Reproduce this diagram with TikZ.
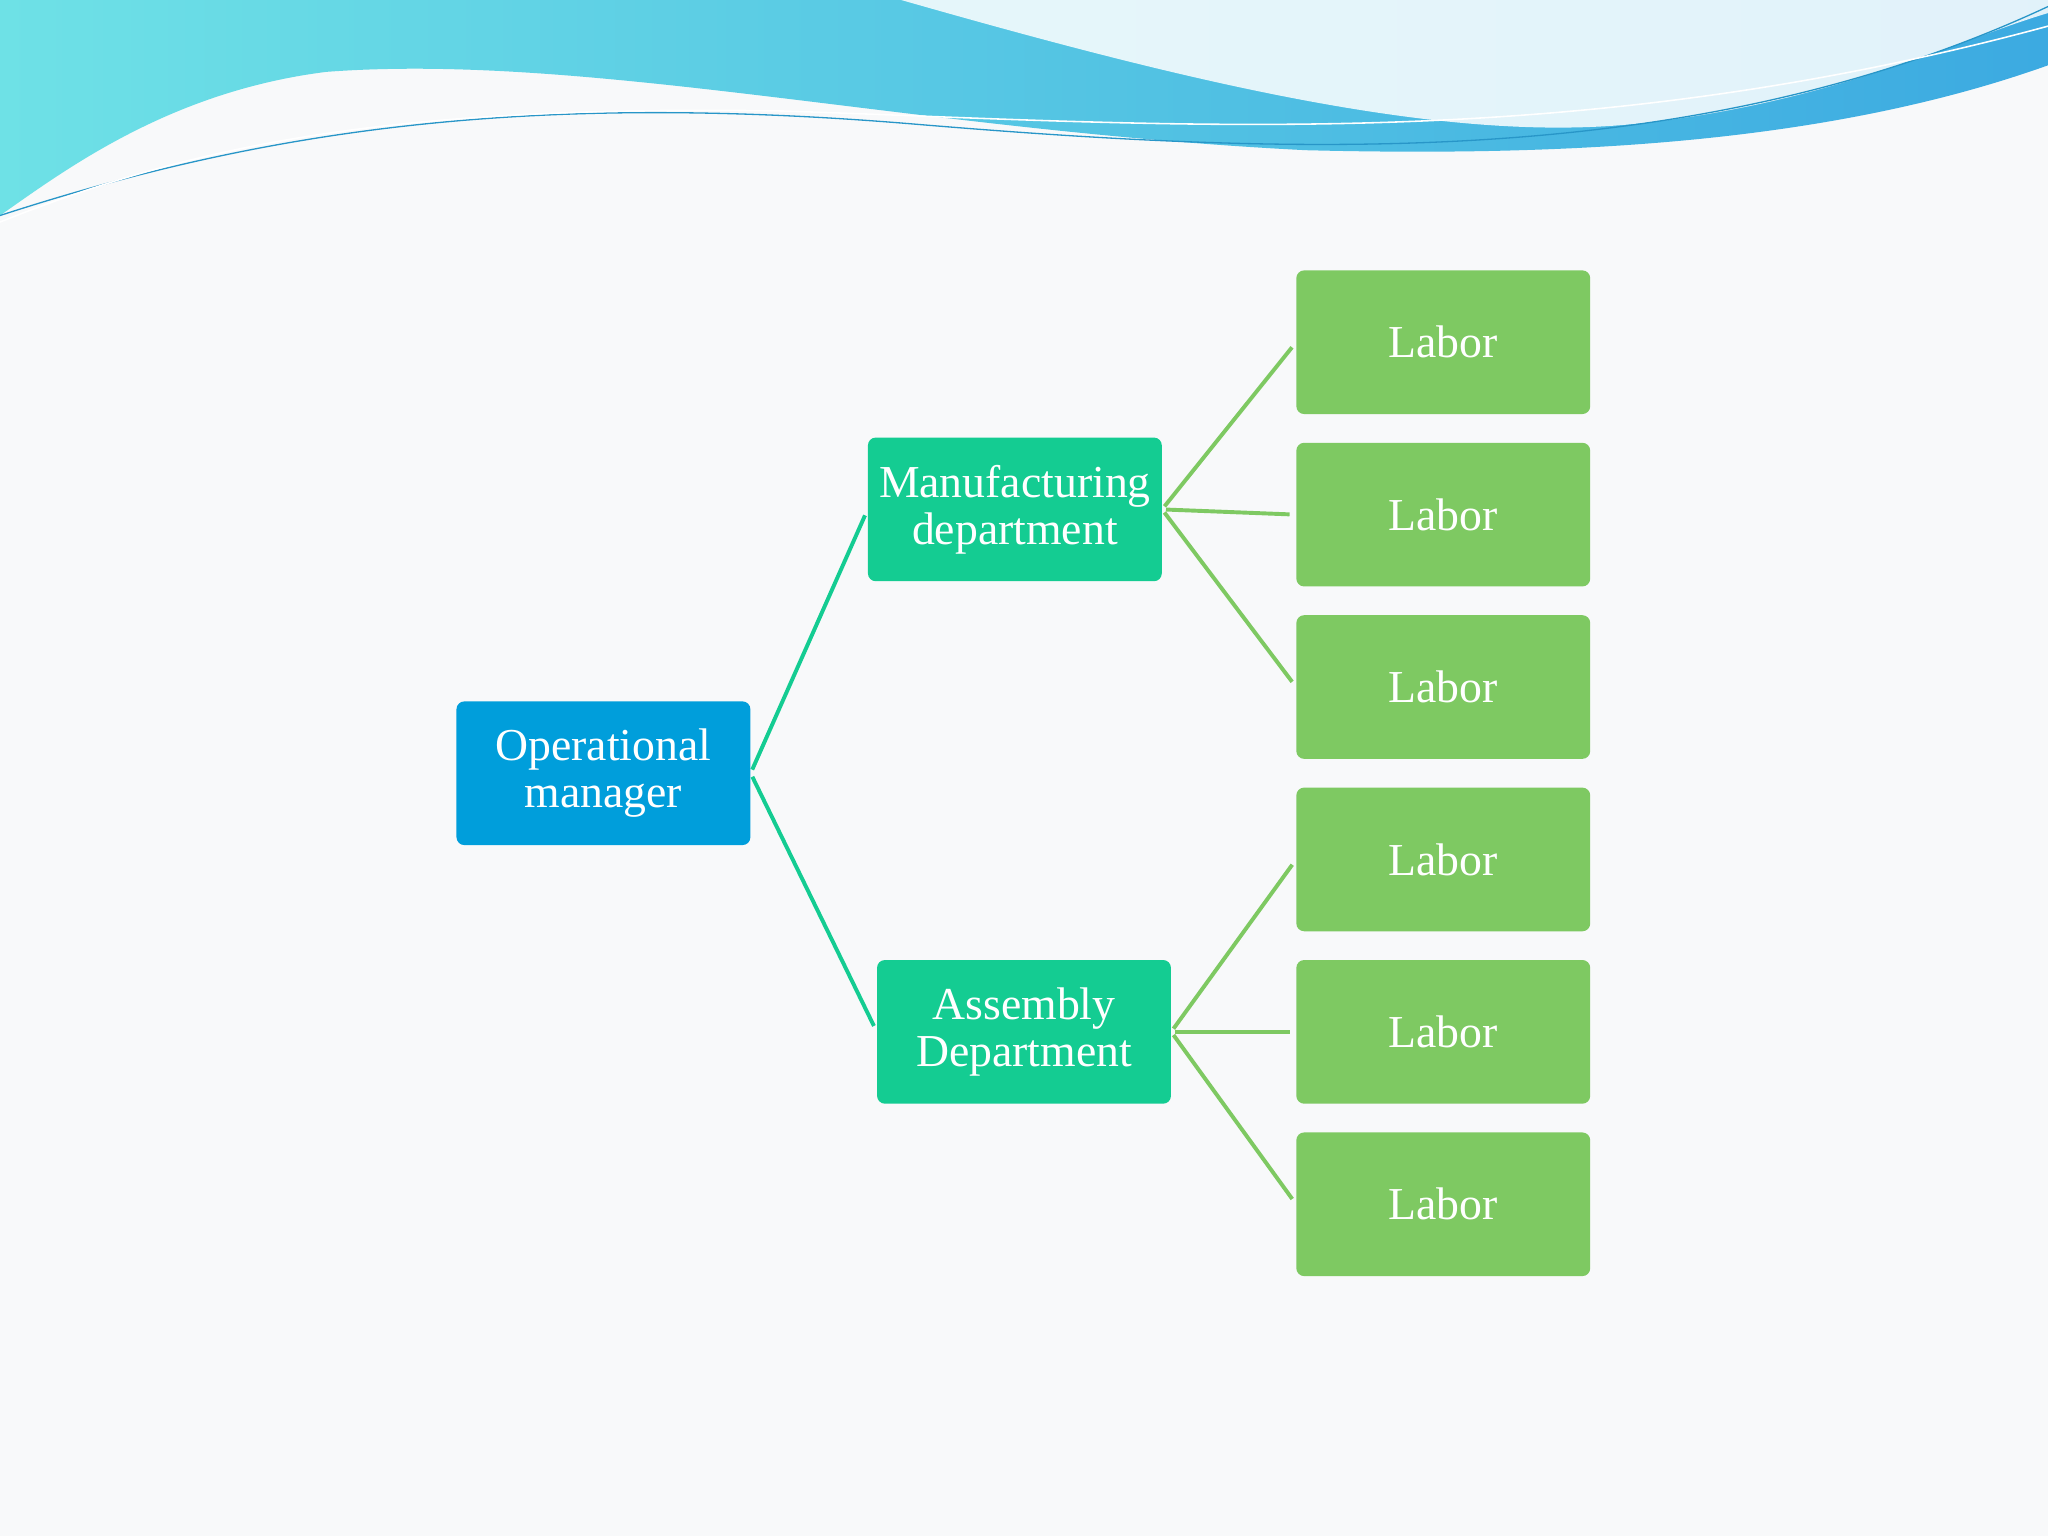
\documentclass[tikz,border=0pt]{standalone}
\usepackage{fontspec}
\setmainfont{Liberation Serif}
\definecolor{bgc}{RGB}{248,249,250}
\definecolor{omc}{RGB}{0,158,219}
\definecolor{depc}{RGB}{20,204,146}
\definecolor{labc}{RGB}{126,201,98}
\definecolor{wavea}{RGB}{110,225,230}
\definecolor{waveb}{RGB}{60,170,225}
\definecolor{wline}{RGB}{40,150,200}
\begin{document}
\begin{tikzpicture}[x=1pt,y=-1pt,
  box/.style={rounded corners=6pt,minimum width=225pt,minimum height=110pt,text=white,align=center,font=\fontsize{35}{36}\selectfont,inner sep=2pt},
  om/.style={box,fill=omc},
  dept/.style={box,fill=depc},
  labor/.style={box,fill=labc},
  lnk/.style={line width=3pt,shorten <=3pt,shorten >=5pt}]
\fill[bgc] (0,0) rectangle (1568,1176);
\useasboundingbox (0,0) rectangle (1568,1176);
% top wave
\shade[left color=wavea,right color=waveb]
 (0,0) -- (1568,0) -- (1568,50) .. controls (1400,110) and (1200,120) .. (1000,115)
 .. controls (700,100) and (450,40) .. (250,55) .. controls (130,70) and (50,130) .. (0,165) -- cycle;
\fill[white,opacity=0.85] (690,0) .. controls (900,60) and (1100,110) .. (1250,95)
 .. controls (1400,80) and (1500,30) .. (1568,10) -- (1568,0) -- cycle;
\draw[wline,line width=1pt] (0,165) .. controls (200,100) and (400,70) .. (700,95) .. controls (1000,120) and (1300,130) .. (1568,5);
\draw[white,line width=1.2pt] (0,170) .. controls (150,110) and (300,80) .. (600,85) .. controls (900,95) and (1200,120) .. (1568,20);
% nodes
\node[om] (om) at (462,592) {Operational\\manager};
\node[dept] (mf) at (777,390) {Manufacturing\\department};
\node[dept] (as) at (784,790) {Assembly\\Department};
\foreach \i/\y in {1/262,2/394,3/526,4/658,5/790,6/922}
  \node[labor] (l\i) at (1105,\y) {Labor};
% connectors
\draw[lnk,depc] (om.east) -- (mf.west);
\draw[lnk,depc] (om.east) -- (as.west);
\foreach \i in {1,2,3} \draw[lnk,labc] (mf.east) -- (l\i.west);
\foreach \i in {4,5,6} \draw[lnk,labc] (as.east) -- (l\i.west);
\end{tikzpicture}
\end{document}
